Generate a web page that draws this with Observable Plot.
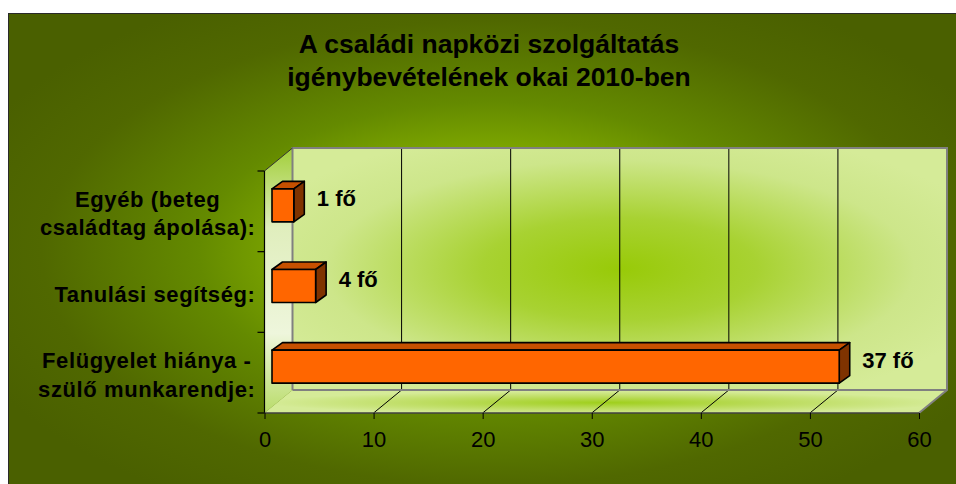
<!DOCTYPE html>
<html><head><meta charset="utf-8">
<script src="https://cdn.jsdelivr.net/npm/d3@7"></script>
<script src="https://cdn.jsdelivr.net/npm/@observablehq/plot@0.6"></script>
<style>
body{margin:0;background:#fff;}
#page{position:relative;width:956px;height:484px;overflow:hidden;background:#fff;font-family:"Liberation Sans",Arial,sans-serif;}
#box{position:absolute;left:8px;top:13px;width:962px;height:478px;border:1px solid #2a2a2a;
 background:radial-gradient(ellipse 560px 290px at 481px 239px,#9acc00 0%,#85b000 30%,#648a00 52%,#506800 80%,#4a6000 100%);}
#title{position:absolute;left:0;top:28px;width:978px;text-align:center;font-weight:bold;font-size:26.5px;line-height:32.5px;color:#000;}
#chart{position:absolute;left:0;top:100px;}
</style></head>
<body><div id="page"><div id="box"></div><div id="title"></div><div id="chart"></div></div>
<script>
const titleLines = ["A családi napközi szolgáltatás", "igénybevételének okai 2010-ben"];
const categories = ["Egyéb (beteg\ncsaládtag ápolása):", "Tanulási segítség:", "Felügyelet hiánya -\nszülő munkarendje:"];
// bar lengths as drawn against the value axis in the picture
const barLengths = [2, 4, 52];
// data labels printed next to the bars
const valueLabels = ["1 fő", "4 fő", "37 fő"];
const xTicks = [0, 10, 20, 30, 40, 50, 60];

document.getElementById("title").innerHTML = titleLines.join("<br>");

const FONT = '"Liberation Sans", Arial, sans-serif';

function scene(index, scales, values, dims) {
  const x = scales.x, y = scales.y;
  const bw = y.bandwidth ? y.bandwidth() : (dims.height - dims.marginTop - dims.marginBottom) / categories.length;
  const X0 = x(xTicks[0]), X1 = x(xTicks[xTicks.length - 1]);
  const T = dims.marginTop, B = dims.height - dims.marginBottom;
  const dx = 28, dy = -23;
  const g = d3.create("svg:g");
  const defs = g.append("defs");
  const grad = (id, type, attrs, stops) => {
    const gr = defs.append(type).attr("id", id);
    for (const k in attrs) gr.attr(k, attrs[k]);
    gr.selectAll("stop").data(stops).join("stop").attr("offset", d => d[0]).attr("stop-color", d => d[1]);
  };
  grad("wallGrad", "radialGradient", {cx: "50%", cy: "50%", r: "60%"},
    [[0, "#98ca08"], [0.35, "#a8d232"], [0.75, "#cde68a"], [1, "#d5eb98"]]);
  grad("sideGrad", "linearGradient", {x1: 0, y1: 0, x2: 0, y2: 1},
    [[0, "#a2cf3a"], [0.3, "#e0eebd"], [0.7, "#eef6dc"], [1, "#b9dc6a"]]);
  grad("floorGrad", "radialGradient", {cx: "50%", cy: "55%", r: "50%"},
    [[0, "#9fcf1c"], [0.5, "#bcdc5e"], [1, "#d5eb98"]]);
  const pts = a => a.map(p => p.join(",")).join(" ");
  const line = (a, b, stroke, w) => g.append("line").attr("x1", a[0]).attr("y1", a[1]).attr("x2", b[0]).attr("y2", b[1])
    .attr("stroke", stroke).attr("stroke-width", w);

  g.append("polygon").attr("points", pts([[X0 + dx, T + dy], [X1 + dx, T + dy], [X1 + dx, B + dy], [X0 + dx, B + dy]])).attr("fill", "url(#wallGrad)");
  g.append("polygon").attr("points", pts([[X0, T], [X0 + dx, T + dy], [X0 + dx, B + dy], [X0, B]])).attr("fill", "url(#sideGrad)");
  g.append("polygon").attr("points", pts([[X0, B], [X1, B], [X1 + dx, B + dy], [X0 + dx, B + dy]])).attr("fill", "url(#floorGrad)");

  for (const t of xTicks.slice(1, -1)) {
    line([x(t) + dx, T + dy], [x(t) + dx, B + dy], "#000", 1);
    line([x(t), B], [x(t) + dx, B + dy], "#000", 1);
  }
  g.append("polyline").attr("points", pts([[X0 + dx, B + dy], [X0 + dx, T + dy], [X1 + dx, T + dy], [X1 + dx, B + dy], [X1, B]]))
    .attr("fill", "none").attr("stroke", "#808080").attr("stroke-width", 2);
  line([X0 + dx, B + dy], [X1 + dx, B + dy], "#808080", 2);
  line([X0, T], [X0 + dx, T + dy], "#333", 1);
  line([X0, T], [X0, B], "#000", 1.2);
  line([X0, B], [X1, B], "#404040", 1.5);
  const bounds = categories.map(c => y(c)).concat([y(categories[categories.length - 1]) + bw]);
  for (const b of bounds) line([X0 - 7, b], [X0, b], "#000", 1.2);

  // 3D bars
  const fo = [7.5, -6], dp = [10.5, -7.5], h = 33;
  barLengths.forEach((v, i) => {
    const yc = y(categories[i]) + bw / 2 + fo[1];
    const xa = x(0) + fo[0], xb = x(v) + fo[0];
    const yt = yc - h / 2, yb = yc + h / 2;
    const bar = g.append("g").attr("stroke", "#000").attr("stroke-width", 1.6).attr("stroke-linejoin", "round");
    bar.append("polygon").attr("points", pts([[xa, yt], [xb, yt], [xb + dp[0], yt + dp[1]], [xa + dp[0], yt + dp[1]]])).attr("fill", "#c65000");
    bar.append("polygon").attr("points", pts([[xb, yt], [xb + dp[0], yt + dp[1]], [xb + dp[0], yb + dp[1]], [xb, yb]])).attr("fill", "#7f3300");
    bar.append("rect").attr("x", xa).attr("y", yt).attr("width", xb - xa).attr("height", h).attr("fill", "#ff6600");
  });
  return g.node();
}

const chart = Plot.plot({
  width: 956,
  height: 384,
  marginLeft: 264.5,
  marginRight: 37,
  marginTop: 71,
  marginBottom: 71,
  style: {background: "transparent", fontFamily: FONT, overflow: "visible", color: "#000"},
  x: {domain: [xTicks[0], xTicks[xTicks.length - 1]]},
  y: {type: "band", domain: categories, padding: 0, round: false, axis: null},
  marks: [
    scene,
    Plot.axisX({ticks: xTicks, tickFormat: d => String(d), tickSize: 6, tickPadding: 12, fontSize: 22, color: "#000"}),
    Plot.text(categories, {y: d => d, frameAnchor: "left", dx: -9.5, textAnchor: "end", text: d => d,
      fontWeight: "bold", fontSize: 22, lineHeight: 1.3, fill: "#000"}),
    Plot.text(barLengths, {x: d => d, y: (d, i) => categories[i], text: (d, i) => valueLabels[i], dx: 30, dy: -12.5,
      textAnchor: "start", fontWeight: "bold", fontSize: 22, fill: "#000"})
  ]
});
document.getElementById("chart").appendChild(chart);

// category labels: block right-aligned at the axis, lines centred within the block (as in the original)
const catGroup = chart.querySelectorAll('g[aria-label="text"]')[0];
if (catGroup) {
  catGroup.style.letterSpacing = "0.6px";
  catGroup.querySelectorAll("text").forEach(t => {
    const spans = t.querySelectorAll("tspan");
    if (spans.length > 1) {
      const w = Math.max(...Array.from(spans, s => s.getComputedTextLength()));
      t.setAttribute("text-anchor", "middle");
      spans.forEach(s => s.setAttribute("x", -w / 2));
    }
  });
}
</script>
</body></html>
